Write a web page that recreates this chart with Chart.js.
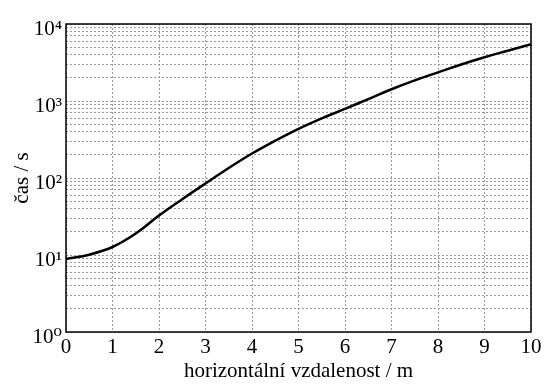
<!DOCTYPE html>
<html>
<head>
<meta charset="utf-8">
<script src="https://cdn.jsdelivr.net/npm/chart.js@4"></script>
<style>
  html, body { margin: 0; padding: 0; background: #fff; }
  #wrap { width: 549px; height: 390px; }
</style>
</head>
<body>
<div id="wrap"><canvas id="timeChart" width="549" height="390"></canvas></div>
<script>
// horizontal distance (m) and time (s)
var distance = [0, 0.5, 1, 1.5, 2, 2.5, 3, 3.5, 4, 4.5, 5, 5.5, 6, 6.5, 7, 7.5, 8, 8.5, 9, 9.5, 10];
var time = [8.9, 10.1, 12.7, 19, 32.5, 53, 85, 135, 208, 305, 435, 595, 790, 1060, 1420, 1850, 2350, 2980, 3700, 4500, 5450];

var xTicks = [0, 1, 2, 3, 4, 5, 6, 7, 8, 9, 10];
var yDecades = [1, 10, 100, 1000, 10000];
var yTickLabels = ['10\u2070', '10\u00b9', '10\u00b2', '10\u00b3', '10\u2074'];

var serif = "'Liberation Serif', 'DejaVu Serif', serif";

// all 1..9 x 10^n grid lines
var yGrid = [];
for (var d = 0; d < yDecades.length - 1; d++) {
  for (var k = 1; k < 10; k++) yGrid.push(k * yDecades[d]);
}
yGrid.push(yDecades[yDecades.length - 1]);

var frame = {
  id: 'frame',
  afterDatasetsDraw: function(chart) {
    var a = chart.chartArea, c = chart.ctx;
    c.save();
    c.strokeStyle = '#000';
    c.lineWidth = 1.5;
    c.strokeRect(a.left, a.top, a.right - a.left, a.bottom - a.top);
    c.restore();
  }
};

var ctx = document.getElementById('timeChart').getContext('2d');
var timeChart = new Chart(ctx, {
  type: 'line',
  data: {
    datasets: [{
      data: distance.map(function(x, i) { return { x: x, y: time[i] }; }),
      borderColor: '#000',
      borderWidth: 2.5,
      pointRadius: 0,
      fill: false,
      tension: 0.4
    }]
  },
  options: {
    responsive: false,
    animation: false,
    layout: { padding: { top: 24, right: 18 } },
    plugins: { legend: { display: false }, tooltip: { enabled: false } },
    scales: {
      x: {
        type: 'linear',
        min: 0, max: 10,
        afterBuildTicks: function(s) { s.ticks = xTicks.map(function(v) { return { value: v }; }); },
        afterFit: function(s) { s.height = 58; },
        grid: { color: '#999', lineWidth: 1, tickLength: 0 },
        border: { display: false, dash: [2, 2] },
        ticks: { color: '#000', padding: 3, font: { family: serif, size: 21 }, maxRotation: 0 },
        title: {
          display: true,
          text: 'horizontální vzdalenost / m',
          color: '#000',
          font: { family: serif, size: 21 },
          padding: { top: 0, bottom: 6 }
        }
      },
      y: {
        type: 'logarithmic',
        min: 1, max: 10000,
        afterBuildTicks: function(s) { s.ticks = yGrid.map(function(v) { return { value: v }; }); },
        afterFit: function(s) { s.width = 66; },
        grid: { color: '#999', lineWidth: 1, tickLength: 0 },
        border: { display: false, dash: [2, 2] },
        ticks: {
          color: '#000',
          padding: 4,
          labelOffset: 5,
          autoSkip: false,
          font: { family: serif, size: 21 },
          callback: function(v) {
            var i = yDecades.indexOf(v);
            return i >= 0 ? yTickLabels[i] : '';
          }
        },
        title: {
          display: true,
          text: 'čas / s',
          color: '#000',
          font: { family: serif, size: 21 },
          padding: { top: 10, bottom: 0 }
        }
      }
    }
  },
  plugins: [frame]
});
</script>
</body>
</html>
